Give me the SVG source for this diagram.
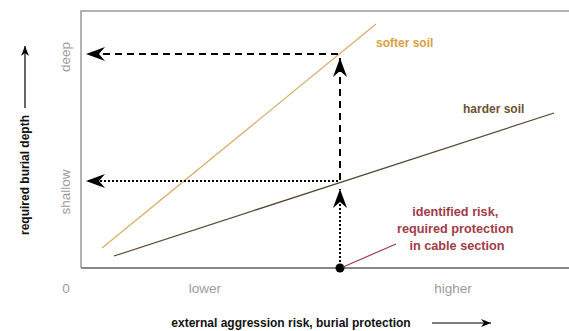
<svg xmlns="http://www.w3.org/2000/svg" width="569" height="331" viewBox="0 0 569 331">
<defs>
<marker id="bigArrow" viewBox="0 0 20 14" refX="19" refY="7" markerWidth="20" markerHeight="14" markerUnits="userSpaceOnUse" orient="auto">
<path d="M19,7 L0,0 L6,7 L0,14 Z" fill="#000"/>
</marker>
<marker id="smallArrow" viewBox="0 0 10 8" refX="10" refY="4" markerWidth="10" markerHeight="8" markerUnits="userSpaceOnUse" orient="auto">
<path d="M10,4 L0,0 L3,4 L0,8 Z" fill="#000"/>
</marker>
<style>
text{font-family:"Liberation Sans",Arial,sans-serif;font-weight:bold;}
.axis{fill:none;stroke:#999;stroke-width:1.5;}
.tick{fill:#9c9c9c;font-size:13.5px;font-weight:normal;}
.lbl{fill:#111;font-size:12px;}
.dash{fill:none;stroke:#000;stroke-width:2;stroke-dasharray:7 5;}
.dot{fill:none;stroke:#000;stroke-width:2;stroke-dasharray:2 2;}
</style>
</defs>

<g id="frame">
<path class="axis" d="M569,11 H81 V268"/>
<line x1="81" y1="268" x2="569" y2="268" stroke="#888" stroke-width="2"/>
</g>

<g id="softer-soil">
<line x1="102" y1="248" x2="376" y2="24" stroke="#d8b06a" stroke-width="1.3"/>
<text x="376" y="47" fill="#d9a044" font-size="12">softer soil</text>
</g>

<g id="harder-soil">
<line x1="114" y1="256" x2="554" y2="113" stroke="#5a4630" stroke-width="1.2"/>
<text x="463" y="113" fill="#6b5234" font-size="12">harder soil</text>
</g>

<g id="risk-point">
<circle cx="340" cy="268" r="4.5" fill="#000"/>
<text fill="#a33a48" font-size="12.7" text-anchor="middle">
<tspan x="457" y="216">identified risk,</tspan>
<tspan x="457" y="233">required protection</tspan>
<tspan x="457" y="250">in cable section</tspan>
</text>
</g>

<g id="connectors">
<line class="dash" x1="338" y1="54" x2="86" y2="54" marker-end="url(#bigArrow)"/>
<line class="dash" x1="340" y1="180" x2="340" y2="58" marker-end="url(#bigArrow)"/>
<line class="dot" x1="338" y1="181" x2="86" y2="181" marker-end="url(#bigArrow)"/>
<line class="dot" x1="340" y1="266" x2="340" y2="189" marker-end="url(#bigArrow)"/>
<line x1="343" y1="267" x2="396" y2="244" stroke="#a33a48" stroke-width="1.2"/>
</g>

<g id="y-axis-labels">
<text class="tick" transform="translate(70,57) rotate(-90)" text-anchor="middle">deep</text>
<text class="tick" transform="translate(70,192) rotate(-90)" text-anchor="middle">shallow</text>
<text class="lbl" transform="translate(29,175) rotate(-90)" text-anchor="middle">required burial depth</text>
<line x1="25" y1="108" x2="25" y2="46" stroke="#000" stroke-width="1.2" marker-end="url(#smallArrow)"/>
</g>

<g id="x-axis-labels">
<text class="tick" x="66" y="293" text-anchor="middle">0</text>
<text class="tick" x="205" y="293" text-anchor="middle">lower</text>
<text class="tick" x="453" y="293" text-anchor="middle">higher</text>
<text class="lbl" x="291" y="327" text-anchor="middle" font-size="12.4">external aggression risk, burial protection</text>
<line x1="432" y1="323" x2="491" y2="323" stroke="#000" stroke-width="1.2" marker-end="url(#smallArrow)"/>
</g>
</svg>
